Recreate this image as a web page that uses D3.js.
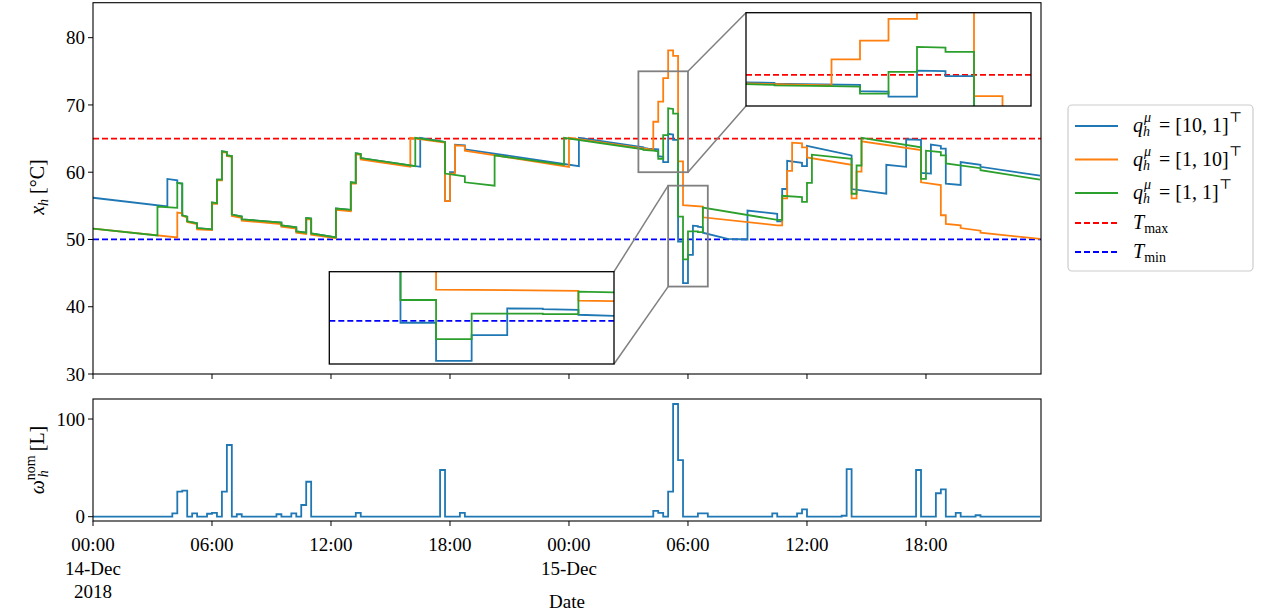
<!DOCTYPE html>
<html>
<head>
<meta charset="utf-8">
<script src="https://cdn.jsdelivr.net/npm/d3@7"></script>
<style>
  body { margin: 0; background: #fff; }
  svg { display: block; font-family: "Liberation Serif", "DejaVu Serif", serif; }
</style>
</head>
<body>
<svg id="chart" width="1268" height="614"></svg>
<script>
// temperature trajectories, [hour since 14-Dec 00:00, degC]
const blueT = [[0,56.2],[3.75,54.9],[3.75,59.0],[4.25,58.8],[4.25,58.4],[4.5,58.3],[4.5,53.6],[4.75,53.4],[4.75,52.7],[5.25,52.4],[5.25,51.7],[6.0,51.5],[6.0,55.5],[6.25,55.4],[6.25,58.9],[6.5,58.9],[6.5,63.1],[6.75,63.0],[6.75,62.5],[7.0,62.4],[7.0,53.7],[7.5,53.4],[7.5,53.0],[9.5,52.5],[9.5,52.1],[10.25,51.8],[10.25,51.2],[10.75,51.0],[10.75,53.2],[11.0,53.1],[11.0,50.9],[12.25,50.3],[12.25,54.6],[13.0,54.4],[13.0,58.5],[13.25,58.4],[13.25,62.8],[13.5,62.7],[13.5,62.1],[16.5,60.8],[16.5,65.1],[17.75,64.5],[17.75,55.7],[18.0,55.7],[18.0,60.0],[18.25,60.0],[18.25,64.1],[18.75,64.0],[18.75,63.4],[24.5,60.9],[24.5,65.1],[27.75,63.7],[27.75,63.6],[28.0,63.5],[28.5,63.4],[28.5,62.4],[28.75,62.3],[28.75,61.5],[29.0,61.5],[29.0,65.7],[29.25,65.6],[29.25,64.8],[29.5,64.8],[29.5,49.7],[29.75,49.7],[29.75,43.5],[30.0,43.5],[30.0,47.7],[30.25,47.7],[30.25,52.05],[30.5,52.0],[30.5,51.9],[30.75,51.8],[30.75,51.0],[32.0,50.1],[33.0,50.0],[33.0,54.3],[34.5,53.8],[34.5,52.7],[34.75,52.7],[34.75,57.5],[35.0,57.5],[35.0,61.7],[35.75,61.4],[35.75,60.9],[36.0,60.9],[36.0,63.9],[38.25,62.5],[38.25,57.5],[40.0,56.8],[40.0,61.1],[41.0,60.8],[41.0,64.9],[41.75,64.8],[41.75,59.9],[42.25,59.8],[42.25,64.1],[42.75,63.9],[42.75,63.5],[43.0,63.5],[43.0,58.3],[43.75,58.1],[43.75,61.5],[44.75,61.1],[44.75,60.8],[47.75,59.5]];

const orangeT = [[0,51.6],[4.25,50.3],[4.25,54.0],[4.5,53.9],[4.5,53.5],[4.75,53.3],[4.75,52.6],[5.25,52.3],[5.25,51.5],[6.0,51.4],[6.0,55.3],[6.25,55.3],[6.25,58.8],[6.5,58.8],[6.5,63.0],[6.75,62.9],[6.75,62.4],[7.0,62.3],[7.0,53.5],[7.5,53.2],[7.5,52.8],[9.5,52.3],[9.5,51.9],[10.25,51.6],[10.25,51.0],[10.75,50.8],[10.75,53.0],[11.0,53.0],[11.0,50.7],[12.25,50.2],[12.25,54.4],[13.0,54.2],[13.0,58.3],[13.25,58.3],[13.25,62.6],[13.5,62.6],[13.5,61.9],[16.0,60.8],[16.0,65.1],[17.75,64.4],[17.75,55.7],[18.0,55.7],[18.0,59.8],[18.25,59.8],[18.25,64.0],[18.75,63.9],[18.75,63.2],[24.0,60.8],[24.0,65.1],[28.25,63.3],[28.25,67.5],[28.5,67.5],[28.5,70.5],[28.75,70.5],[28.75,74.0],[29.0,74.0],[29.0,78.1],[29.25,78.1],[29.25,77.3],[29.5,77.3],[29.5,61.6],[29.75,61.6],[29.75,55.1],[30.75,54.9],[30.75,53.3],[34.5,52.1],[34.75,52.1],[34.75,56.1],[35.0,56.1],[35.0,60.2],[35.25,60.2],[35.25,64.4],[35.75,64.3],[35.75,63.7],[36.0,63.7],[36.0,62.2],[38.25,61.1],[38.25,56.1],[38.5,56.1],[38.5,60.1],[38.75,60.1],[38.75,64.6],[41.75,63.3],[41.75,58.5],[42.75,58.1],[42.75,53.6],[43.0,53.6],[43.0,52.3],[43.75,52.1],[43.75,51.7],[44.75,51.3],[44.75,51.0],[47.75,50.1]];

const greenT = [[0,51.6],[3.25,50.6],[3.25,54.9],[4.25,54.7],[4.25,58.4],[4.5,58.3],[4.5,53.6],[4.75,53.4],[4.75,52.7],[5.25,52.4],[5.25,51.7],[6.0,51.5],[6.0,55.5],[6.25,55.4],[6.25,58.9],[6.5,58.9],[6.5,63.1],[6.75,63.0],[6.75,62.5],[7.0,62.4],[7.0,53.7],[7.5,53.4],[7.5,53.0],[9.5,52.5],[9.5,52.1],[10.25,51.8],[10.25,51.2],[10.75,51.0],[10.75,53.2],[11.0,53.1],[11.0,50.9],[12.25,50.3],[12.25,54.6],[13.0,54.4],[13.0,58.5],[13.25,58.4],[13.25,62.8],[13.5,62.7],[13.5,62.1],[16.25,60.9],[16.25,65.1],[17.75,64.5],[17.75,59.8],[18.75,59.4],[18.75,58.5],[20.25,58.0],[20.25,62.5],[23.75,61.1],[23.75,65.1],[27.75,63.4],[27.75,63.3],[28.25,63.2],[28.5,63.1],[28.5,62.0],[28.75,62.0],[28.75,65.5],[29.0,65.5],[29.0,69.5],[29.25,69.4],[29.25,68.7],[29.5,68.7],[29.5,53.4],[29.75,53.4],[29.75,47.05],[30.0,47.05],[30.0,51.2],[30.5,51.2],[30.5,51.1],[30.75,51.1],[30.75,54.75],[34.5,52.9],[34.75,52.9],[34.75,56.5],[35.75,56.3],[35.75,55.6],[36.0,55.6],[36.0,58.4],[36.25,58.4],[36.25,62.6],[38.25,62.0],[38.25,56.8],[38.5,56.8],[38.5,61.0],[38.75,61.0],[38.75,65.1],[41.75,63.7],[41.75,59.0],[42.0,59.0],[42.0,63.2],[42.75,63.0],[42.75,62.5],[43.0,62.5],[43.0,61.3],[44.75,60.6],[44.75,60.3],[47.75,58.9]];

// nominal hot water demand, step changes [hour, litres]
const demand = [[0,0],[4.0,3.5],[4.25,25.6],[4.5,26.6],[4.75,0],[5.0,3.5],[5.25,0],[5.75,3],[6.0,4],[6.25,0],[6.5,25.6],[6.75,73.4],[7.0,0],[7.25,2.5],[7.5,0],[9.25,2.5],[9.5,0],[10.0,3.5],[10.25,0],[10.5,12],[10.75,35.8],[11.0,0],[13.25,4],[13.5,0],[17.5,47.8],[17.75,0],[18.5,4],[18.75,0],[28.25,6],[28.5,4],[28.75,0],[29.0,25.6],[29.25,115.4],[29.5,58],[29.75,0],[30.5,3.5],[31.0,0],[34.25,3.5],[34.5,0],[35.5,3.5],[35.75,7.5],[36.0,0],[37.75,1],[38.0,48.8],[38.25,0],[41.5,47.8],[41.75,0],[42.5,24],[42.75,27.9],[43.0,0],[43.5,4],[43.75,0],[44.5,1.5],[44.75,0],[47.75,0]];

const tMax = 65, tMin = 50;
const xTicks = [0, 6, 12, 18, 24, 30, 36, 42];
const xTickTime = ["00:00","06:00","12:00","18:00","00:00","06:00","12:00","18:00"];
const xTickDay  = ["14-Dec","","","","15-Dec","","",""];
const xTickYear = ["2018","","","","","","",""];
const yTicksTop = [30, 40, 50, 60, 70, 80];
const yTicksBot = [0, 100];
const zoomTop = {x: [27.5, 30], y: [60, 75]};
const zoomBot = {x: [29, 31], y: [43, 58]};

const series = [
  {data: blueT,   color: "#1f77b4", label: "[10, 1]"},
  {data: orangeT, color: "#ff7f0e", label: "[1, 10]"},
  {data: greenT,  color: "#2ca02c", label: "[1, 1]"}
];

const svg = d3.select("#chart");
const L = 93, R = 1041;
const top1 = 2.7, bot1 = 374, top2 = 399, bot2 = 521;

const x  = d3.scaleLinear().domain([0, 47.8]).range([L, R]);
const y1 = d3.scaleLinear().domain([30, 85.2]).range([bot1, top1]);
const y2 = d3.scaleLinear().domain([-4.4, 120.5]).range([bot2, top2]);

const defs = svg.append("defs");
function clip(id, x0, y0, w, h) {
  defs.append("clipPath").attr("id", id).append("rect")
    .attr("x", x0).attr("y", y0).attr("width", w).attr("height", h);
  return `url(#${id})`;
}

function drawLines(g, xs, ys, x0, x1) {
  g.append("line").attr("x1", x0).attr("x2", x1)
    .attr("y1", ys(tMax)).attr("y2", ys(tMax))
    .attr("stroke", "#ff0000").attr("stroke-width", 1.8).attr("stroke-dasharray", "6,3");
  g.append("line").attr("x1", x0).attr("x2", x1)
    .attr("y1", ys(tMin)).attr("y2", ys(tMin))
    .attr("stroke", "#0000ff").attr("stroke-width", 1.8).attr("stroke-dasharray", "6,3");
  const line = d3.line().x(d => xs(d[0])).y(d => ys(d[1]));
  series.forEach(s => {
    g.append("path").attr("d", line(s.data))
      .attr("fill", "none").attr("stroke", s.color)
      .attr("stroke-width", 1.8).attr("stroke-linejoin", "miter");
  });
}

// ---- main temperature panel
const main = svg.append("g").attr("clip-path", clip("c1", L, top1, R - L, bot1 - top1));
drawLines(main, x, y1, L, R);

// zoom indicators and connectors
const gray = "#808080";
function indicator(z, inset) {
  const rx0 = x(z.x[0]), rx1 = x(z.x[1]), ry0 = y1(z.y[1]), ry1 = y1(z.y[0]);
  svg.append("rect").attr("x", rx0).attr("y", ry0)
    .attr("width", rx1 - rx0).attr("height", ry1 - ry0)
    .attr("fill", "none").attr("stroke", gray).attr("stroke-width", 1.8);
  inset.links.forEach(k => {
    svg.append("line")
      .attr("x1", k[0] ? rx1 : rx0).attr("y1", k[1] ? ry1 : ry0)
      .attr("x2", k[2] ? inset.x1 : inset.x0).attr("y2", k[3] ? inset.y1 : inset.y0)
      .attr("stroke", gray).attr("stroke-width", 1.5);
  });
}

const insetTop = {x0: 746, x1: 1031, y0: 12.7, y1: 106, links: [[1,0,0,0],[1,1,0,1]]};
const insetBot = {x0: 329.3, x1: 614, y0: 271.7, y1: 364, links: [[0,0,1,0],[0,1,1,1]]};
indicator(zoomTop, insetTop);
indicator(zoomBot, insetBot);

function drawInset(z, b, id) {
  const xs = d3.scaleLinear().domain(z.x).range([b.x0, b.x1]);
  const ys = d3.scaleLinear().domain(z.y).range([b.y1, b.y0]);
  svg.append("rect").attr("x", b.x0).attr("y", b.y0)
    .attr("width", b.x1 - b.x0).attr("height", b.y1 - b.y0).attr("fill", "#fff");
  const g = svg.append("g").attr("clip-path", clip(id, b.x0, b.y0, b.x1 - b.x0, b.y1 - b.y0));
  drawLines(g, xs, ys, b.x0, b.x1);
  svg.append("rect").attr("x", b.x0).attr("y", b.y0)
    .attr("width", b.x1 - b.x0).attr("height", b.y1 - b.y0)
    .attr("fill", "none").attr("stroke", "#000").attr("stroke-width", 1.3);
}
drawInset(zoomTop, insetTop, "ci1");
drawInset(zoomBot, insetBot, "ci2");

// frame + axes of the top panel
svg.append("rect").attr("x", L).attr("y", top1).attr("width", R - L).attr("height", bot1 - top1)
  .attr("fill", "none").attr("stroke", "#000").attr("stroke-width", 1.1);

const tickLen = 5, fs = 19, fl = 20, fsub = 14;
const ax1 = svg.append("g");
yTicksTop.forEach(v => {
  ax1.append("line").attr("x1", L - tickLen).attr("x2", L).attr("y1", y1(v)).attr("y2", y1(v)).attr("stroke", "#000");
  ax1.append("text").attr("x", L - 8).attr("y", y1(v)).attr("dy", "0.35em")
    .attr("text-anchor", "end").attr("font-size", fs).text(v);
});
xTicks.forEach(v => {
  ax1.append("line").attr("x1", x(v)).attr("x2", x(v)).attr("y1", bot1).attr("y2", bot1 + tickLen).attr("stroke", "#000");
});

// ---- demand panel
const dLine = d3.line().curve(d3.curveStepAfter).x(d => x(d[0])).y(d => y2(d[1]));
svg.append("g").attr("clip-path", clip("c2", L, top2, R - L, bot2 - top2))
  .append("path").attr("d", dLine(demand))
  .attr("fill", "none").attr("stroke", "#1f77b4").attr("stroke-width", 1.8);
svg.append("rect").attr("x", L).attr("y", top2).attr("width", R - L).attr("height", bot2 - top2)
  .attr("fill", "none").attr("stroke", "#000").attr("stroke-width", 1.1);

const ax2 = svg.append("g");
yTicksBot.forEach(v => {
  ax2.append("line").attr("x1", L - tickLen).attr("x2", L).attr("y1", y2(v)).attr("y2", y2(v)).attr("stroke", "#000");
  ax2.append("text").attr("x", L - 8).attr("y", y2(v)).attr("dy", "0.35em")
    .attr("text-anchor", "end").attr("font-size", fs).text(v);
});
xTicks.forEach((v, i) => {
  ax2.append("line").attr("x1", x(v)).attr("x2", x(v)).attr("y1", bot2).attr("y2", bot2 + tickLen).attr("stroke", "#000");
  [xTickTime[i], xTickDay[i], xTickYear[i]].forEach((t, j) => {
    if (!t) return;
    ax2.append("text").attr("x", x(v)).attr("y", 551 + j * 23.5)
      .attr("text-anchor", "middle").attr("font-size", fs).text(t);
  });
});
svg.append("text").attr("x", (L + R) / 2).attr("y", 608)
  .attr("text-anchor", "middle").attr("font-size", fs).text("Date");

// ---- y labels (math style)
const yl1 = svg.append("text").attr("transform", "translate(44,187) rotate(-90)")
  .attr("text-anchor", "middle").attr("font-size", fl);
yl1.append("tspan").attr("font-style", "italic").text("x");
yl1.append("tspan").attr("font-style", "italic").attr("font-size", fsub).attr("dy", 4).text("h");
yl1.append("tspan").attr("dy", -4).text(" [°C]");

const yl2 = svg.append("text").attr("transform", "translate(44,460) rotate(-90)")
  .attr("text-anchor", "middle").attr("font-size", fl);
yl2.append("tspan").attr("font-style", "italic").text("ω");
yl2.append("tspan").attr("font-size", fsub).attr("dy", -9).text("nom");
yl2.append("tspan").attr("font-style", "italic").attr("font-size", fsub).attr("dx", -22).attr("dy", 13).text("h");
yl2.append("tspan").attr("dx", 14).attr("dy", -4).text(" [L]");

// ---- legend
const lg = svg.append("g");
lg.append("rect").attr("x", 1068).attr("y", 105).attr("width", 185).attr("height", 166)
  .attr("rx", 4).attr("fill", "#fff").attr("stroke", "#cccccc").attr("stroke-width", 1.2);
const rowY = [126, 159.5, 193, 223, 252];
series.forEach((s, i) => {
  const yy = rowY[i];
  lg.append("line").attr("x1", 1075).attr("x2", 1118).attr("y1", yy).attr("y2", yy)
    .attr("stroke", s.color).attr("stroke-width", 1.8);
  const t = lg.append("text").attr("x", 1133).attr("y", yy + 6).attr("font-size", fl);
  t.append("tspan").attr("font-style", "italic").text("q");
  t.append("tspan").attr("font-style", "italic").attr("font-size", fsub).attr("dx", 1).attr("dy", -10).text("μ");
  t.append("tspan").attr("font-style", "italic").attr("font-size", fsub).attr("dx", -8).attr("dy", 14).text("h");
  t.append("tspan").attr("dx", 4).attr("dy", -4).text(" = " + s.label);
  t.append("tspan").attr("font-size", fsub).attr("dy", -10).text("⊤");
});
[["max", "#ff0000"], ["min", "#0000ff"]].forEach((d, i) => {
  const yy = rowY[3 + i];
  lg.append("line").attr("x1", 1075).attr("x2", 1118).attr("y1", yy).attr("y2", yy)
    .attr("stroke", d[1]).attr("stroke-width", 1.8).attr("stroke-dasharray", "6,3");
  const t = lg.append("text").attr("x", 1133).attr("y", yy + 6).attr("font-size", fl);
  t.append("tspan").attr("font-style", "italic").text("T");
  t.append("tspan").attr("font-size", fsub).attr("dy", 4).text(d[0]);
});
</script>
</body>
</html>
